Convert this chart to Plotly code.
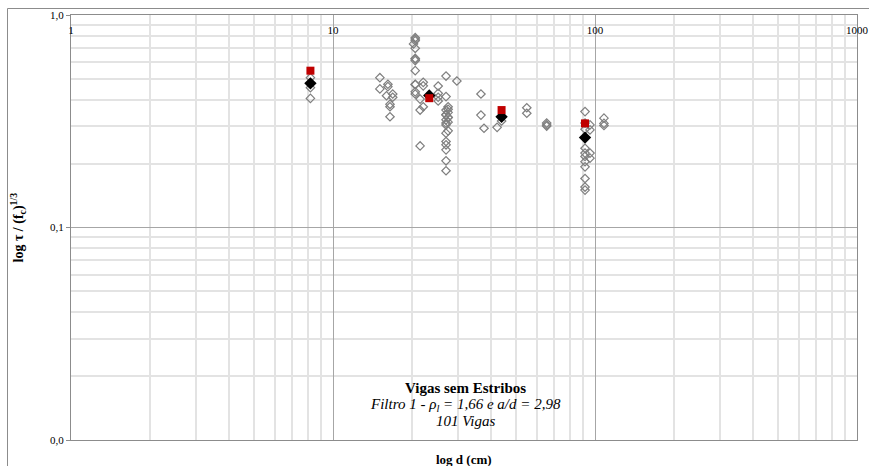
import plotly.graph_objects as go

# ---- data ----
d_vigas = [8.2, 8.2, 8.2, 8.2,
           15.1, 15.1, 16.2, 16.2, 16.0, 16.9, 16.9, 16.5, 16.5, 16.5,
           20.6, 20.6, 20.3, 20.6, 20.6, 20.6, 20.6, 20.6, 20.6, 20.6, 21.5, 22.1, 22.1, 22.1, 21.5, 21.5,
           20.6, 20.6, 20.6,
           25.2, 25.2, 25.2, 25.2, 27.0, 27.0, 29.7,
           27.5, 27.0, 27.5, 27.0, 27.5, 27.0, 27.5, 27.0, 27.5, 27.0, 27.0, 27.0, 27.0, 27.0, 27.0,
           27.0, 27.5, 27.0, 27.5,
           36.7, 36.7, 37.7, 42.3, 44.0, 44.0,
           54.9, 54.9, 65.4, 65.4, 65.4,
           91.6, 95.7, 95.7, 91.6, 91.6, 91.6, 91.6, 95.7, 95.7, 91.6, 91.6, 91.6, 91.6, 91.6, 91.6,
           108.2, 108.2, 108.2]
v_vigas = [0.507, 0.455, 0.405, 0.477,
           0.507, 0.449, 0.472, 0.460, 0.417, 0.425, 0.410, 0.380, 0.370, 0.332,
           0.782, 0.757, 0.731, 0.697, 0.625, 0.610, 0.547, 0.472, 0.435, 0.425, 0.402, 0.482, 0.464, 0.370, 0.357, 0.242,
           0.770, 0.620, 0.470,
           0.463, 0.428, 0.410, 0.394, 0.516, 0.413, 0.489,
           0.370, 0.357, 0.348, 0.338, 0.329, 0.321, 0.313, 0.304, 0.285, 0.278, 0.254, 0.245, 0.232, 0.206, 0.185,
           0.340, 0.330, 0.310, 0.360,
           0.425, 0.338, 0.293, 0.296, 0.317, 0.330,
           0.366, 0.345, 0.310, 0.304, 0.300,
           0.351, 0.304, 0.288, 0.310, 0.290, 0.236, 0.224, 0.224, 0.212, 0.216, 0.204, 0.193, 0.170, 0.155, 0.150,
           0.327, 0.309, 0.302]

d_medio = [8.2, 23.3, 44.0, 91.6]
v_medio = [0.477, 0.418, 0.332, 0.265]
v_modelo = [0.547, 0.406, 0.357, 0.309]

x_tickvals = [1, 10, 100, 1000]
x_ticktext = ["1", "10", "100", "1000"]
y_tickvals = [0.01, 0.1, 1]
y_ticktext = ["0,0", "0,1", "1,0"]

SERIF = "Liberation Serif, Times New Roman, serif"

W, H = 869, 466
ML, MR, MT, MB = 71, 12, 15, 26
PW, PH = W - ML - MR, H - MT - MB

fig = go.Figure()
fig.add_trace(go.Scatter(
    x=d_vigas, y=v_vigas, mode="markers",
    marker=dict(symbol="diamond", size=6.5, color="rgba(255,255,255,0)",
                line=dict(color="#7f7f7f", width=1.2)),
    showlegend=False, hoverinfo="x+y"))
fig.add_trace(go.Scatter(
    x=d_medio, y=v_medio, mode="markers",
    marker=dict(symbol="diamond", size=9.5, color="black", line=dict(width=0)),
    showlegend=False))
fig.add_trace(go.Scatter(
    x=d_medio, y=v_modelo, mode="markers",
    marker=dict(symbol="square", size=8, color="#c00000", line=dict(width=0)),
    showlegend=False))
# invisible carrier for the label axis (x tick labels drawn just below the top border)
fig.add_trace(go.Scatter(
    x=[x_tickvals[0], x_tickvals[-1]], y=[y_tickvals[1], y_tickvals[1]],
    xaxis="x2", mode="markers", marker=dict(opacity=0),
    hoverinfo="skip", showlegend=False))

minor_x = [m * 10 ** k for k in range(3) for m in range(2, 10)]
minor_y = [m * 10 ** k for k in (-2, -1) for m in range(2, 10)]

fig.update_layout(
    xaxis=dict(
        type="log", range=[0, 3], side="top", automargin=False,
        tickmode="array", tickvals=x_tickvals, showticklabels=False, ticks="",
        showgrid=True, gridcolor="#a6a6a6", gridwidth=1,
        minor=dict(tickmode="array", tickvals=minor_x, showgrid=True,
                   gridcolor="#e3e3e3", gridwidth=1.5, ticks=""),
        showline=True, linecolor="#8c8c8c", linewidth=1, mirror=True,
        zeroline=False),
    xaxis2=dict(
        type="log", range=[0, 3], overlaying="x", anchor="free", position=0.983,
        side="bottom", automargin=False,
        tickmode="array", tickvals=x_tickvals, ticktext=x_ticktext, ticks="",
        tickfont=dict(family=SERIF, size=11, color="black"),
        showgrid=False, showline=False, zeroline=False),
    yaxis=dict(
        type="log", range=[-2, 0], automargin=False,
        tickmode="array", tickvals=y_tickvals, ticktext=y_ticktext,
        ticks="outside", ticklen=4, tickcolor="#8c8c8c",
        tickfont=dict(family=SERIF, size=11, color="black"),
        showgrid=True, gridcolor="#a6a6a6", gridwidth=1,
        minor=dict(tickmode="array", tickvals=minor_y, showgrid=True,
                   gridcolor="#e3e3e3", gridwidth=1.5, ticks=""),
        showline=True, linecolor="#8c8c8c", linewidth=1, mirror=True,
        zeroline=False),
)

fig.update_layout(
    width=W, height=H,
    margin=dict(l=ML, r=MR, t=MT, b=MB, autoexpand=False),
    plot_bgcolor="white", paper_bgcolor="white",
    font=dict(family=SERIF, color="black"),
    annotations=[
        dict(text="<b>log τ / (f<sub>c</sub>)<sup>1/3</sup></b>", xref="paper", yref="paper",
             x=-53 / PW, y=0.5, textangle=-90, showarrow=False,
             font=dict(family=SERIF, size=14), xanchor="center", yanchor="middle"),
        dict(text="<b>log d (cm)</b>", xref="paper", yref="paper",
             x=0.5, y=-19 / PH, showarrow=False, yanchor="middle",
             font=dict(family=SERIF, size=13)),
        dict(text="<b>Vigas sem Estribos</b>", xref="paper", yref="paper",
             x=0.502, y=(440 - 388) / PH, showarrow=False, yanchor="middle",
             font=dict(family=SERIF, size=15)),
        dict(text="<i>Filtro 1 - ρ<sub>l</sub> = 1,66 e a/d = 2,98</i>", xref="paper", yref="paper",
             x=0.502, y=(440 - 405) / PH, showarrow=False, yanchor="middle",
             font=dict(family=SERIF, size=15)),
        dict(text="<i>101 Vigas</i>", xref="paper", yref="paper",
             x=0.502, y=(440 - 421) / PH, showarrow=False, yanchor="middle",
             font=dict(family=SERIF, size=15)),
    ],
    shapes=[
        dict(type="rect", xref="paper", yref="paper",
             x0=(7.5 - ML) / PW, x1=1.2, y0=-0.3, y1=1 + (MT - 8.5) / PH,
             line=dict(color="#8c8c8c", width=1), fillcolor="rgba(0,0,0,0)", layer="below"),
    ],
)

# page's default 8px body margin would shift the figure; remove it so the figure fills the window
fig.write_html("out.html",
               config={"displayModeBar": False},
               post_script="document.body.style.margin='0';"
                           "document.documentElement.style.overflow='hidden';")
